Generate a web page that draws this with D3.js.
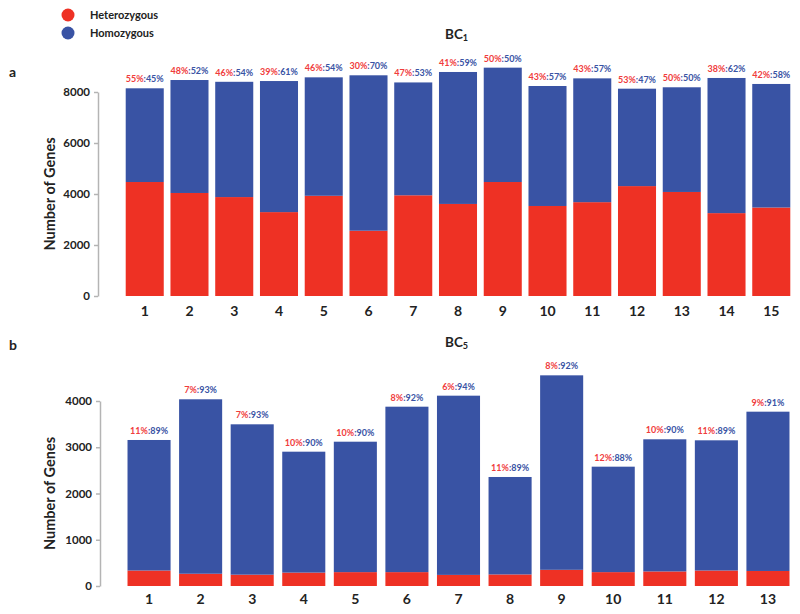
<!DOCTYPE html>
<html>
<head>
<meta charset="utf-8">
<script src="https://cdn.jsdelivr.net/npm/d3@7"></script>
<style>
  body { margin: 0; background: #fff; }
  svg { display: block; font-family: Lato, "Open Sans", sans-serif; }
</style>
</head>
<body>
<svg id="chart" width="800" height="614"></svg>
<script>
// ---- Data ----
const seriesNames = ["Heterozygous", "Homozygous"];

const bc1Categories = ["1","2","3","4","5","6","7","8","9","10","11","12","13","14","15"];
const bc1Het = [4470, 4040, 3880, 3290, 3930, 2560, 3950, 3610, 4470, 3530, 3680, 4310, 4080, 3250, 3470];
const bc1Hom = [3675, 4430, 4520, 5140, 4645, 6095, 4425, 5175, 4485, 4705, 4855, 3820, 4105, 5300, 4845];
const bc1HetPct = ["55%","48%","46%","39%","46%","30%","47%","41%","50%","43%","43%","53%","50%","38%","42%"];
const bc1HomPct = ["45%","52%","54%","61%","54%","70%","53%","59%","50%","57%","57%","47%","50%","62%","58%"];
const bc1Ticks = [0, 2000, 4000, 6000, 8000];

const bc5Categories = ["1","2","3","4","5","6","7","8","9","10","11","12","13"];
const bc5Het = [335, 265, 245, 290, 300, 300, 240, 250, 350, 300, 315, 335, 325];
const bc5Hom = [2822, 3772, 3251, 2614, 2820, 3577, 3875, 2107, 4205, 2280, 2857, 2815, 3444];
const bc5HetPct = ["11%","7%","7%","10%","10%","8%","6%","11%","8%","12%","10%","11%","9%"];
const bc5HomPct = ["89%","93%","93%","90%","90%","92%","94%","89%","92%","88%","90%","89%","91%"];
const bc5Ticks = [0, 1000, 2000, 3000, 4000];

// ---- Style ----
const RED = "#ee3124";
const BLUE = "#3953a4";
const LABEL_RED = "#f03c3c";
const AXIS_GRAY = "#b4b4b4";

const svg = d3.select("#chart");

// Legend
const legend = svg.append("g");
seriesNames.forEach((name, i) => {
  const y = 15 + i * 18;
  legend.append("circle").attr("cx", 68).attr("cy", y).attr("r", 6.5)
    .attr("fill", i === 0 ? RED : BLUE);
  legend.append("text").attr("x", 90).attr("y", y).attr("dy", "0.35em")
    .attr("font-size", 11).attr("font-weight", 700).attr("fill", "#222").text(name);
});

function panel(opts) {
  const { cats, het, hom, hetPct, homPct, ticks, yMax, yRange, xRange, padding,
          axisX, letter, letterY, titleSub, titleY, tickPad } = opts;
  const g = svg.append("g");
  const data = cats.map((c, i) => ({ cat: c, het: het[i], hom: hom[i] }));
  const x = d3.scaleBand().domain(cats).range(xRange).paddingInner(padding).paddingOuter(padding);
  const y = d3.scaleLinear().domain([0, yMax]).range(yRange);
  const stack = d3.stack().keys(["het", "hom"])(data);

  stack.forEach((layer, li) => {
    g.append("g").selectAll("rect").data(layer).join("rect")
      .attr("x", d => x(d.data.cat))
      .attr("width", x.bandwidth())
      .attr("y", d => y(d[1]))
      .attr("height", d => y(d[0]) - y(d[1]))
      .attr("fill", li === 0 ? RED : BLUE);
  });

  // percent labels
  const lab = g.append("g").selectAll("text").data(data).join("text")
    .attr("x", d => x(d.cat) + x.bandwidth() / 2)
    .attr("y", d => y(d.het + d.hom) - 6)
    .attr("text-anchor", "middle")
    .attr("font-size", 9).attr("font-weight", 700);
  lab.append("tspan").attr("fill", LABEL_RED).text((d, i) => hetPct[i]);
  lab.append("tspan").attr("fill", BLUE).text((d, i) => ":" + homPct[i]);

  // y axis
  const ya = g.append("g").attr("transform", `translate(${axisX},0)`)
    .call(d3.axisLeft(y).tickValues(ticks).tickFormat(d3.format("d"))
      .tickSize(4).tickPadding(4).tickSizeOuter(0));
  ya.select(".domain").attr("stroke", AXIS_GRAY).attr("stroke-width", 1.5);
  ya.selectAll(".tick line").attr("stroke", AXIS_GRAY).attr("stroke-width", 1.5);
  ya.selectAll(".tick text").attr("font-size", 11.5).attr("font-weight", 700)
    .attr("fill", "#222").style("font-family", "Lato, sans-serif");

  // x axis
  const xa = g.append("g").attr("transform", `translate(0,${yRange[0]})`)
    .call(d3.axisBottom(x).tickSize(0).tickPadding(tickPad));
  xa.select(".domain").remove();
  xa.selectAll(".tick text").attr("font-size", 14).attr("font-weight", 700)
    .attr("fill", "#222").style("font-family", "Lato, sans-serif");

  // y label
  const midY = (yRange[0] + yRange[1]) / 2;
  g.append("text").attr("transform", `translate(50,${midY}) rotate(-90)`)
    .attr("text-anchor", "middle").attr("dy", "0.35em")
    .attr("font-size", 14.5).attr("font-weight", 700).attr("fill", "#222")
    .text("Number of Genes");

  // panel letter
  g.append("text").attr("x", 9).attr("y", letterY).attr("dy", "0.35em")
    .attr("font-size", 14).attr("font-weight", 700).attr("fill", "#222").text(letter);

  // title
  const t = g.append("text").attr("x", 445).attr("y", titleY).attr("dy", "0.35em")
    .attr("font-size", 13.5).attr("font-weight", 700).attr("fill", "#222");
  t.append("tspan").text("BC");
  t.append("tspan").attr("font-size", 9).attr("dy", "0.3em").text(titleSub);
}

panel({
  cats: bc1Categories, het: bc1Het, hom: bc1Hom, hetPct: bc1HetPct, homPct: bc1HomPct,
  ticks: bc1Ticks, yMax: 8000, yRange: [296, 92], xRange: [119, 797], padding: 0.15,
  axisX: 98, letter: "a", letterY: 72, titleSub: "1", titleY: 34, tickPad: 10
});

panel({
  cats: bc5Categories, het: bc5Het, hom: bc5Hom, hetPct: bc5HetPct, homPct: bc5HomPct,
  ticks: bc5Ticks, yMax: 4000, yRange: [586, 401], xRange: [119, 798], padding: 0.165,
  axisX: 100, letter: "b", letterY: 345, titleSub: "5", titleY: 342, tickPad: 8.5
});
</script>
</body>
</html>
